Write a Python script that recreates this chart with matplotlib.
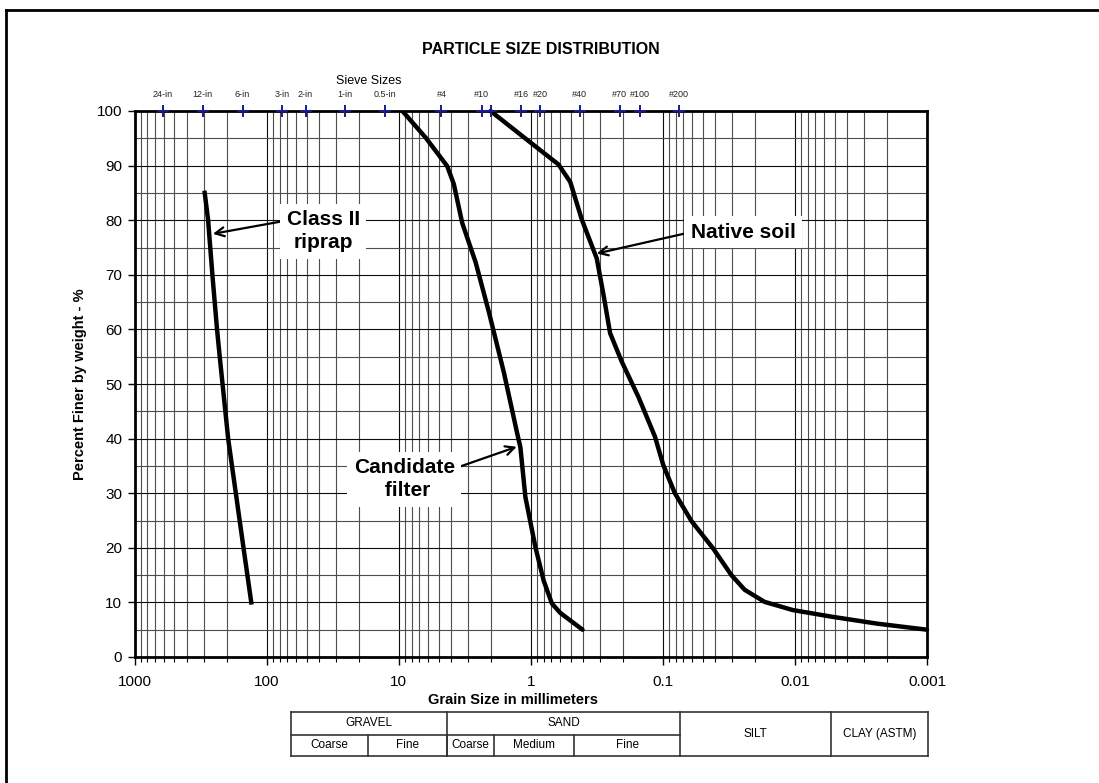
import numpy as np
import matplotlib
matplotlib.use('Agg')
import matplotlib.pyplot as plt
from matplotlib.lines import Line2D
from matplotlib.ticker import LogLocator, MultipleLocator, FuncFormatter, NullFormatter

plt.rcParams['font.family'] = ['Liberation Sans', 'DejaVu Sans']

# gradation curves (grain size mm, percent finer)
riprap_mm = [295, 278, 258, 238, 227, 196, 150, 131]
riprap_pct = [85, 80, 70, 60, 55, 40, 20, 10]

filter_mm = [9.39, 6.25, 4.30, 3.83, 3.31, 2.62, 2.08, 1.60, 1.27, 1.20, 1.10,
             0.925, 0.80, 0.693, 0.60, 0.406]
filter_pct = [100, 95.1, 89.9, 86.6, 79.5, 72.3, 63.2, 52.1, 41.0, 38.4, 29.3,
              20.2, 14.0, 9.8, 8.1, 5.0]

native_mm = [2.02, 1.04, 0.617, 0.503, 0.411, 0.317, 0.282, 0.251, 0.205, 0.153,
             0.115, 0.0995, 0.0812, 0.0608, 0.0417, 0.0303, 0.024, 0.017, 0.0104,
             0.00533, 0.00237, 0.001]
native_pct = [100, 94.5, 90.2, 87.0, 80.1, 73.0, 66.4, 59.3, 54.1, 47.6,
              40.4, 35.2, 30.0, 24.9, 19.9, 15.0, 12.3, 10.1, 8.6,
              7.4, 6.1, 5.0]

# sieve marks along the top
sieve_labels = ['24-in', '12-in', '6-in', '3-in', '2-in', '1-in', '0.5-in', '#4',
                '#10', '', '#16', '#20', '#40', '#70', '#100', '#200']
sieve_mm = [609.6, 304.8, 152.4, 76.2, 50.8, 25.4, 12.7, 4.75,
            2.36, 2.0, 1.18, 0.85, 0.425, 0.212, 0.15, 0.075]

# soil classification strip under the axis
class_names = ['GRAVEL', 'SAND', 'SILT', 'CLAY (ASTM)']
class_bounds = [66, 4.3, 0.074, 0.0053, 0.00098]
sub_names = ['Coarse', 'Fine', 'Coarse', 'Medium', 'Fine']
sub_bounds = [66, 17, 4.3, 1.9, 0.47, 0.074]

W, H = 1099, 783
fig = plt.figure(figsize=(W / 100, H / 100), dpi=100)
ax = fig.add_axes([134.7 / W, 1 - 657 / H, (927 - 134.7) / W, (657 - 111) / H])

ax.set_xscale('log')
ax.set_xlim(1000, 0.001)
ax.set_ylim(0, 100)

ax.xaxis.set_major_locator(LogLocator(base=10))
ax.xaxis.set_minor_locator(LogLocator(base=10, subs=np.arange(2, 10)))
ax.xaxis.set_major_formatter(FuncFormatter(lambda v, p: f'{v:g}'))
ax.xaxis.set_minor_formatter(NullFormatter())
ax.yaxis.set_major_locator(MultipleLocator(10))
ax.yaxis.set_minor_locator(MultipleLocator(5))

ax.grid(which='major', color='0.05', lw=0.8)
ax.grid(which='minor', color='0.3', lw=0.8)
ax.set_axisbelow(True)

for s in ax.spines.values():
    s.set_linewidth(2)
ax.tick_params(axis='y', which='major', direction='out', length=5, width=1,
               labelsize=11, pad=4)
ax.tick_params(axis='y', which='minor', length=0)
ax.tick_params(axis='x', which='major', direction='out', length=6, width=1,
               labelsize=11, pad=7)
ax.tick_params(axis='x', which='minor', direction='out', length=3.5, width=0.8)

lw = 3.2
ax.plot(riprap_mm, riprap_pct, color='k', lw=lw, solid_joinstyle='round', zorder=4)
ax.plot(filter_mm, filter_pct, color='k', lw=lw, solid_joinstyle='round',
        solid_capstyle='round', zorder=4)
ax.plot(native_mm, native_pct, color='k', lw=lw, solid_joinstyle='round',
        solid_capstyle='round', zorder=4, clip_on=False)

# sieve marks
ax.plot(sieve_mm, [100] * len(sieve_mm), '+', color='#1a1a8c', ms=8.5, mew=1.4,
        clip_on=False, zorder=6)
for lab, d in zip(sieve_labels, sieve_mm):
    if lab:
        ax.text(d, 1.03, lab, transform=ax.get_xaxis_transform(), ha='center',
                va='center', fontsize=6.5, color='#222222')
fig.text(369 / W, 1 - 81 / H, 'Sieve Sizes', ha='center', va='center', fontsize=9)

# annotations
box = dict(boxstyle='square,pad=0.3', fc='white', ec='none')
arrow = dict(arrowstyle='->', lw=1.6, color='k', shrinkA=0, shrinkB=0,
             mutation_scale=16)
ax.annotate('Class II\nriprap', xy=(256, 77.5), xytext=(37.3, 78.0),
            ha='center', va='center', fontsize=15, fontweight='bold',
            linespacing=1.3, bbox=box,
            arrowprops=dict(arrow, relpos=(0, 0.75)), zorder=5)
ax.annotate('Candidate\n filter', xy=(1.28, 38.5), xytext=(9.1, 32.6),
            ha='center', va='center', fontsize=15, fontweight='bold',
            linespacing=1.3, bbox=box,
            arrowprops=dict(arrow, relpos=(1, 0.75)), zorder=5)
ax.annotate('Native soil', xy=(0.317, 73.9), xytext=(0.0247, 77.8),
            ha='center', va='center', fontsize=15, fontweight='bold', bbox=box,
            arrowprops=dict(arrow, relpos=(0, 0.5)), zorder=5)

# titles and axis labels
fig.text(541 / W, 1 - 50 / H, 'PARTICLE SIZE DISTRIBUTION', ha='center',
         va='center', fontsize=11.5, fontweight='bold')
fig.text(80 / W, 1 - 384 / H, 'Percent Finer by weight - %', ha='center',
         va='center', rotation=90, fontsize=10.5, fontweight='bold')
fig.text(513 / W, 1 - 700 / H, 'Grain Size in millimeters', ha='center',
         va='center', fontsize=10.5, fontweight='bold')

# classification table
tr = ax.get_xaxis_transform()
y_top, y_mid, y_bot = (657 - 712) / 546, (657 - 735) / 546, (657 - 756) / 546
tkw = dict(color='0.2', lw=1.2, transform=tr, clip_on=False)
ax.plot([class_bounds[0], class_bounds[-1]], [y_top, y_top], **tkw)
ax.plot([class_bounds[0], class_bounds[-1]], [y_bot, y_bot], **tkw)
ax.plot([class_bounds[0], class_bounds[2]], [y_mid, y_mid], **tkw)
for b in class_bounds:
    ax.plot([b, b], [y_top, y_bot], **tkw)
for b in sub_bounds[1:-1]:
    ax.plot([b, b], [y_mid, y_bot], **tkw)
for i, name in enumerate(class_names):
    xc = np.sqrt(class_bounds[i] * class_bounds[i + 1])
    yc = (y_top + y_mid) / 2 if i < 2 else (y_top + y_bot) / 2
    ax.text(xc, yc, name, transform=tr, ha='center', va='center', fontsize=8.5)
for i, name in enumerate(sub_names):
    xc = np.sqrt(sub_bounds[i] * sub_bounds[i + 1])
    ax.text(xc, (y_mid + y_bot) / 2, name, transform=tr, ha='center',
            va='center', fontsize=8.5)

# chart area border (left and top edges only)
fig.add_artist(Line2D([6 / W, 6 / W], [0, 1 - 10 / H], transform=fig.transFigure,
                      color='k', lw=2))
fig.add_artist(Line2D([6 / W, 1], [1 - 10 / H, 1 - 10 / H], transform=fig.transFigure,
                      color='k', lw=2))

fig.savefig('out.png', dpi=100)
